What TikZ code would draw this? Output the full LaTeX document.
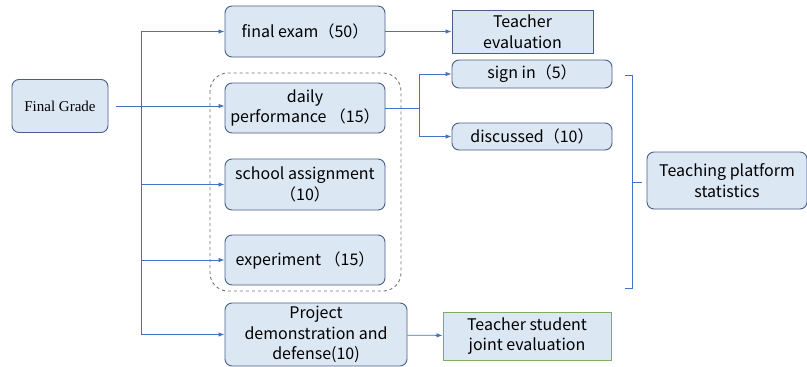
\documentclass[tikz,border=0pt]{standalone}
\usepackage{fontspec}
\setmainfont{Noto Sans CJK SC}
\newfontfamily\timesfont{Liberation Serif}
\usetikzlibrary{arrows.meta}
\definecolor{boxfill}{HTML}{DCE7F4}
\definecolor{boxline}{HTML}{4A5F85}
\definecolor{linkblue}{HTML}{4472C4}
\definecolor{evalgreen}{HTML}{7FAF5E}
\begin{document}
\begin{tikzpicture}[
	  x=1pt,y=-1pt,
	  item/.style={draw=boxline,fill=boxfill,line width=0.9pt,rounded corners=7pt,align=center,inner sep=1pt,font=\fontsize{16}{20.5}\selectfont},
	  flat/.style={item,rounded corners=0pt},
	  link/.style={draw=linkblue,line width=0.8pt,-{Latex[length=6pt,width=4.5pt]}}
	]
		\useasboundingbox (0,0) rectangle (807,367);
		\draw [gray!90!black,dashed,line width=0.9pt,rounded corners=18pt] (210,73) rectangle (401,291);
		\node [item,minimum width=96pt,minimum height=53pt,font=\timesfont\fontsize{15}{18}\selectfont] (grade) at (60,106) {Final Grade};
		\node [item,minimum width=160pt,minimum height=51pt] (exam) at (305,31.5) {final exam（50）};
		\node [flat,minimum width=141pt,minimum height=43pt] (teacher) at (522.5,31.5) {Teacher\\evaluation};
		\node [item,minimum width=160pt,minimum height=50pt] (daily) at (305,108) {daily\\performance （15）};
		\node [item,minimum width=160pt,minimum height=51pt] (school) at (305,184.5) {school assignment\\（10）};
		\node [item,minimum width=160pt,minimum height=50pt] (experiment) at (305,260) {experiment （15）};
		\node [item,minimum width=182pt,minimum height=63pt] (project) at (316,334.5) {Project\\demonstration and\\defense(10)};
		\node [flat,draw=evalgreen,minimum width=168pt,minimum height=48pt] (joint) at (527,336) {Teacher student\\joint evaluation};
		\node [item,minimum width=160pt,minimum height=28pt] (signin) at (532,74) {sign in（5）};
		\node [item,minimum width=160pt,minimum height=27pt] (discussed) at (532,136.5) {discussed（10）};
		\node [item,minimum width=160pt,minimum height=57pt] (platform) at (727,180.5) {Teaching platform\\statistics};
		\coordinate (trunk) at (141,0);
		\coordinate (split) at (419,0);
		\draw [linkblue,line width=0.8pt] (trunk |- exam.west) -- (trunk |- project.west);
		\draw [link] ([xshift=8pt]grade.east) -- (daily.west |- grade.east);
		\foreach \k in {exam,school,experiment,project} {\draw [link] (trunk |- \k.west) -- (\k.west); }
		\draw [link] (exam) -- (teacher);
		\draw [link] (project) -- (joint);
		\draw [linkblue,line width=0.8pt] (daily.east) -- (split |- daily.east);
		\draw [link] (split |- daily.east) |- (signin.west);
		\draw [link] (split |- daily.east) |- (discussed.west);
		\draw [linkblue,line width=0.8pt] (625,75) -- (632,75) -- (632,288) -- (625,288) (632,182) -- (642,182);
	\end{tikzpicture}
\end{document}
